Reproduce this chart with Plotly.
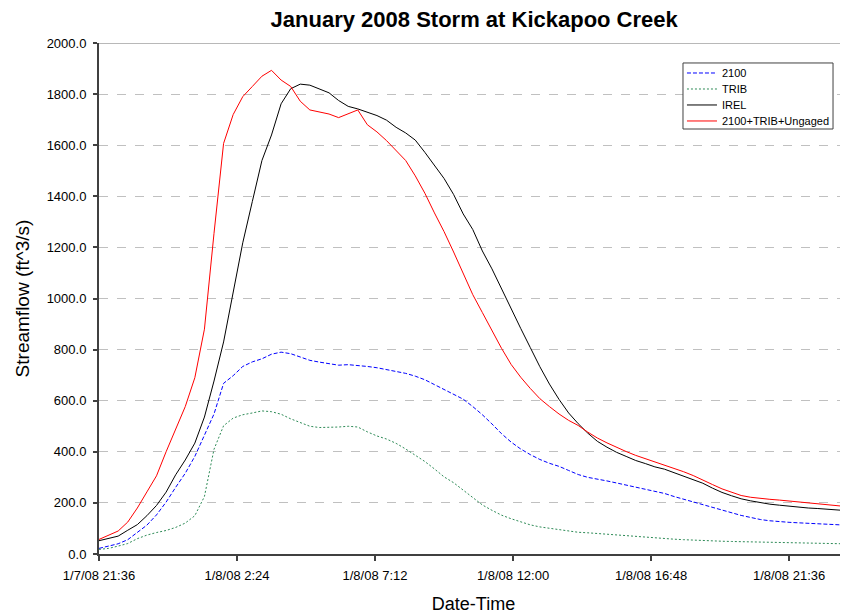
import pandas as pd
import plotly.graph_objects as go

# 20-minute time steps starting 1/7/08 21:36
start_time = "2008-01-07 21:36"
n_points = 80
times = pd.date_range(start=start_time, periods=n_points, freq="20min")

flow_2100 = [22, 30, 40, 56, 83, 113, 153, 203, 261, 316,
             382, 462, 548, 668, 698, 734, 752, 764, 782, 790,
             784, 771, 758, 751, 745, 739, 741, 739, 734, 729,
             722, 715, 707, 696, 682, 663, 643, 623, 606, 577,
             545, 509, 471, 438, 411, 389, 370, 355, 343, 327,
             311, 300, 294, 286, 278, 270, 263, 255, 247, 237,
             225, 214, 205, 195, 182, 170, 160, 151, 143, 135,
             130, 126, 124, 122, 120, 117, 115, 113, 112, 111]

flow_trib = [18, 22, 31, 41, 60, 74, 84, 92, 104, 121,
             150, 225, 410, 502, 532, 545, 552, 560, 557, 547,
             529, 513, 500, 495, 495, 497, 500, 497, 478, 462,
             450, 433, 411, 386, 362, 333, 302, 279, 250, 218,
             192, 171, 152, 138, 125, 114, 106, 101, 97, 90,
             85, 83, 80, 77, 74, 71, 68, 65, 63, 61,
             58, 56, 54, 52, 51, 50, 49, 48, 47, 46,
             45, 44, 44, 43, 43, 42, 41, 40, 39, 39]

flow_irel = [52, 60, 70, 93, 115, 150, 190, 242, 310, 368,
             434, 536, 677, 830, 1025, 1218, 1380, 1540, 1640, 1762,
             1821, 1839, 1835, 1821, 1805, 1775, 1752, 1742, 1730, 1716,
             1698, 1670, 1648, 1620, 1572, 1520, 1470, 1407, 1331, 1270,
             1186, 1116, 1037, 957, 883, 808, 733, 665, 605, 552,
             510, 473, 441, 418, 398, 382, 366, 354, 341, 332,
             318, 304, 291, 277, 258, 241, 228, 216, 208, 200,
             195, 191, 187, 183, 180, 178, 175, 172, 169, 167]

flow_total = [57, 72, 90, 125, 180, 243, 306, 400, 485, 577,
              690, 880, 1255, 1607, 1720, 1790, 1830, 1870, 1893, 1855,
              1830, 1772, 1738, 1730, 1722, 1708, 1722, 1738, 1680, 1652,
              1618, 1580, 1540, 1480, 1412, 1335, 1262, 1182, 1098, 1015,
              945, 873, 805, 742, 692, 648, 608, 577, 548, 523,
              503, 477, 454, 435, 417, 401, 386, 373, 361, 348,
              337, 322, 307, 291, 272, 255, 241, 229, 222, 217,
              214, 211, 207, 204, 200, 196, 192, 189, 185, 182]

series_names = ["2100", "TRIB", "IREL", "2100+TRIB+Ungaged"]

tick_times = ["2008-01-07 21:36", "2008-01-08 02:24", "2008-01-08 07:12",
              "2008-01-08 12:00", "2008-01-08 16:48", "2008-01-08 21:36"]
tick_labels = ["1/7/08 21:36", "1/8/08 2:24", "1/8/08 7:12",
               "1/8/08 12:00", "1/8/08 16:48", "1/8/08 21:36"]
y_ticks = [0, 200, 400, 600, 800, 1000, 1200, 1400, 1600, 1800, 2000]

font_family = "Liberation Sans, Arial, sans-serif"

styles = [dict(color="#0000ff", width=1, dash="4px,2px"),
          dict(color="#2e8b57", width=1, dash="2px,2px"),
          dict(color="#000000", width=1, dash="solid"),
          dict(color="#ff0000", width=1, dash="solid")]
series_values = [flow_2100, flow_trib, flow_irel, flow_total]

fig = go.Figure()
for name, vals, st in zip(series_names, series_values, styles):
    fig.add_trace(go.Scatter(x=times, y=vals, name=name, mode="lines",
                             line=st, showlegend=False))

# solid top border at 2000
fig.add_shape(type="line", xref="paper", yref="y", x0=0, x1=1, y0=2000, y1=2000,
              line=dict(color="#a0a0a0", width=1.5))

# legend box (drawn to match compact row spacing of the original)
fig.add_shape(type="rect", xref="paper", yref="paper",
              x0=0.7797, x1=0.980, y0=0.8317, y1=0.9609,
              line=dict(color="#404040", width=1), fillcolor="white", layer="above")
row_y = [0.9413, 0.9100, 0.8787, 0.8474]
for name, st, ry in zip(series_names, styles, row_y):
    fig.add_shape(type="line", xref="paper", yref="paper",
                  x0=0.785, x1=0.8251, y0=ry, y1=ry, line=st, layer="above")
    fig.add_annotation(text=name, xref="paper", yref="paper", x=0.829, y=ry,
                       xanchor="left", yanchor="middle", showarrow=False,
                       font=dict(size=11, family=font_family, color="#000000"))

fig.update_layout(
    width=840, height=608,
    margin=dict(l=91, r=0, t=35, b=62),
    paper_bgcolor="white", plot_bgcolor="white",
    font=dict(family=font_family, color="#000000"),
    title=dict(text="<b>January 2008 Storm at Kickapoo Creek</b>",
               x=0.555, xanchor="center", y=1 - 11 / 608, yanchor="middle",
               font=dict(size=22, family=font_family, color="#000000")),
    showlegend=False,
)

fig.update_xaxes(
    type="date",
    range=["2008-01-07 21:36", "2008-01-08 23:39"],
    tickmode="array", tickvals=tick_times, ticktext=tick_labels,
    ticks="outside", ticklen=5, tickcolor="#404040", tickwidth=1.5,
    showline=True, linecolor="#404040", linewidth=2,
    showgrid=False, zeroline=False,
    tickfont=dict(size=13, family=font_family, color="#000000"),
    ticklabelstandoff=3,
    title=dict(text="Date-Time", font=dict(size=18, family=font_family, color="#000000"),
               standoff=16),
)

fig.update_yaxes(
    range=[0, 2000],
    tickmode="array", tickvals=y_ticks, tickformat=".1f",
    ticks="outside", ticklen=4, tickcolor="#404040", tickwidth=1.5,
    showline=True, linecolor="#404040", linewidth=2,
    showgrid=True, gridcolor="#c0c0c0", griddash="dash", gridwidth=1,
    zeroline=False,
    tickfont=dict(size=13, family=font_family, color="#000000"),
    ticklabelstandoff=4,
    title=dict(text="Streamflow (ft^3/s)", font=dict(size=19, family=font_family, color="#000000"),
               standoff=12),
)

fig.write_html("out.html")
